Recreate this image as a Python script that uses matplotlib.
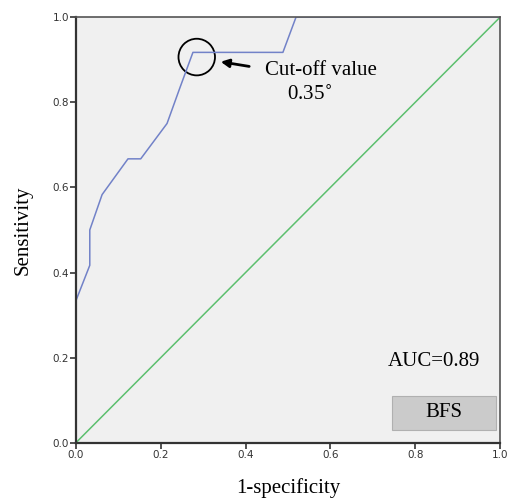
import matplotlib
matplotlib.use("Agg")
import matplotlib.pyplot as plt
from matplotlib.patches import Circle, FancyBboxPatch
import numpy as np

# ROC curve points
fpr = [0.0, 0.0, 0.033, 0.033, 0.062, 0.123, 0.153, 0.215, 0.245, 0.276, 0.488, 0.519, 1.0]
tpr = [0.0, 0.333, 0.417, 0.5, 0.583, 0.667, 0.667, 0.75, 0.833, 0.917, 0.917, 1.0, 1.0]
ref = [0.0, 1.0]
ticks = [0.0, 0.2, 0.4, 0.6, 0.8, 1.0]
auc_text = "AUC=0.89"
label = "BFS"

serif = "Liberation Serif"
fs = 15

fig = plt.figure(figsize=(5.12, 5.01), dpi=100)
ax = fig.add_axes([0.148, 0.116, 0.829, 0.850])
ax.set_facecolor("#f0f0f0")

ax.plot(ref, ref, color="#5cbf6e", lw=1.1)
ax.plot(fpr, tpr, color="#7282c8", lw=1.1)

ax.set_xlim(0, 1)
ax.set_ylim(0, 1)
ax.set_xticks(ticks)
ax.set_yticks(ticks)
ax.set_xticklabels(["%.1f" % t for t in ticks], fontsize=7.5, color="#333333")
ax.set_yticklabels(["%.1f" % t for t in ticks], fontsize=7.5, color="#333333")
ax.tick_params(direction="out", length=4, width=1.2, color="#333333", pad=1)
for s in ["left", "bottom"]:
    ax.spines[s].set_linewidth(1.6)
    ax.spines[s].set_color("#333333")
for s in ["top", "right"]:
    ax.spines[s].set_linewidth(1.2)
    ax.spines[s].set_color("#555555")

ax.set_xlabel("1-specificity", fontsize=fs, family=serif, labelpad=13)
ax.set_ylabel("Sensitivity", fontsize=fs, family=serif, labelpad=14)

# cut-off marker
circ = Circle((0.285, 0.906), 0.043, transform=ax.transData, fill=False,
              edgecolor="black", lw=1.3)
ax.add_patch(circ)
ax.annotate("", xy=(0.335, 0.896), xytext=(0.415, 0.883),
            arrowprops=dict(arrowstyle="-|>", color="black", lw=2, mutation_scale=12))
ax.text(0.446, 0.874, "Cut-off value", fontsize=fs, family=serif, va="center")
ax.text(0.498, 0.816, "0.35$^{\\circ}$", fontsize=fs, family=serif, va="center")

ax.text(0.735, 0.19, auc_text, fontsize=fs, family=serif, va="center")

box = FancyBboxPatch((0.745, 0.031), 0.245, 0.078, boxstyle="square,pad=0",
                     facecolor="#cbcbcb", edgecolor="#b0b0b0", lw=0.8,
                     transform=ax.transData)
ax.add_patch(box)
ax.text(0.8675, 0.072, label, fontsize=fs, family=serif, ha="center", va="center")

fig.savefig("out.png", dpi=100)
